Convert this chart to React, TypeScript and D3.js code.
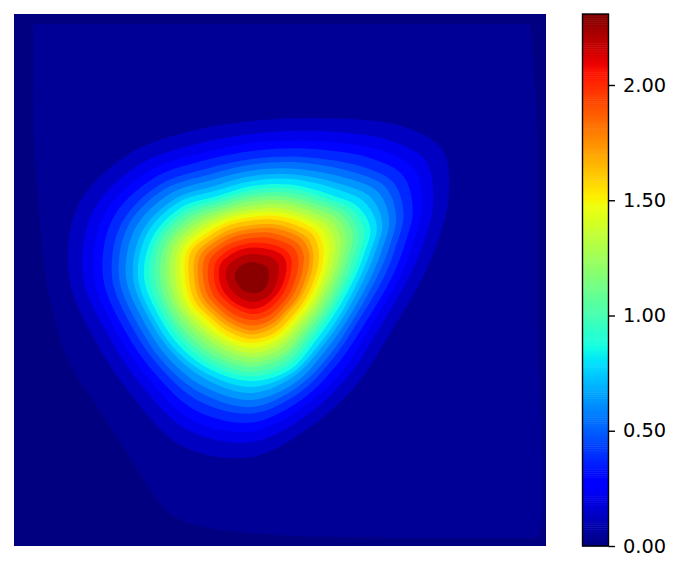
import React, { useEffect, useRef } from "react";
import * as d3 from "d3";

// contour radii, one list per ray (angles in rayAngles, east then clockwise)
// each list runs from level 2 out at the rim to level 28 around the peak, in field units
const rayE = [171,157,148,140,132,125,119,113,108,103,98.5,94,89.5,85,80.5,76,71.5,67,63,58,54,49,44,38,33,26,17];
const rayA1 = [149,137,129,122,115,110,105,100,96,91,87,83.5,80,76,72,68.5,65,61,57.5,53,50,45,41,35.5,31,25,17];
const rayA2 = [150,138,130,122,115,110,104,99,95,90,86,82,78,74.5,70.5,66.5,63,59,56,51,48,44,40,35,30,25,17];
const rayA3 = [160,148,139,132,125,119,114,108,104,100,95.5,91,86,82,77,72.5,68,63.5,60,55,51,47,42,36.5,31,25,17];
const rayS = [180,165,154.5,145.5,136.5,130,123,116,110,104,99.5,95,90,85.5,80.5,76,71,66,62,57.5,53.5,48.5,43,37,32,25,16];
const rayA5 = [183,166,155,145,135,127,120,112.5,107,101.5,97,92,87.5,82.5,77.5,73,68.5,64,59.5,55,51,46.5,41.5,35.5,31,24,16];
const rayA6 = [169,155,145.5,137,129,123,116.5,110,105.5,100,95,90.5,86,81,76,71.5,67,62,58,54,50,45.5,41,35,31,24,16];
const rayA7 = [169,155,146,138,130,123.5,117,111,106.5,101,96.5,92,88,83.5,79,75,70.5,66,62,57,53,48,43,37,32,25,16];
const rayW = [183,169,158,149,140,133,126,119,114,108,103,97,92,87,82,77,72,67,63,58,54,49,44,38,33,26,17];
const rayA9 = [188,172,160.5,151,141,134,126.5,119,113.5,107,102.5,98,93,88.5,84,79,74.5,70,66,60.5,56,51,45.5,39,34,26.5,17];
const rayA10 = [174,159,148.5,139.5,130.5,124,117,110,105,99,94.5,90,85.5,81,76.5,72,67.5,63,59,54.5,51,46,41.5,36,31,24.5,16];
const rayA11 = [158,144,134,126,117.5,111,105,98.5,93.5,88,84.5,81,77.5,74,70.5,67,63.5,60,56.5,52,48,44,39,34,29.5,23,15];
const rayN = [156,143,134,126,118,112.5,106.5,101,96,91,87,83,79.5,75.5,71.5,67.5,64,60,56.5,52,48,44,39,34,29.5,23,15];
const rayA13 = [172,158,147.5,139,130,124,117,111,106,100,96,91.5,87,83,79,74.5,70,66,62,57,53,48,42.5,36.5,31,24,15];
const rayA14 = [213,193.5,180,168,156,147,138.5,130,123,115,110,105,100,95,90,85,80,75,70,64.5,60,54,48,41.5,35.5,27.5,17];
const rayA145 = [229,209,195,182,170,161,152,143,135,127,121,115,109.5,103.5,97.5,91.5,85,79,74,68,63,57,51,43.5,37.5,29,18];
const rayA15 = [213,196,184,174,164,156,148.5,141,135,128,121.5,115,109,102.5,96,90,83.5,77,72,66,62,56,50,43,37,29,18];
const rayA155 = [190,175,164,155,146,139,132,125.5,120,114,109,103.5,98,93,88,82.5,77,72,67.5,62,58,52,47,40,35,27,17.5];
const rays = [rayE,rayA1,rayA2,rayA3,rayS,rayA5,rayA6,rayA7,rayW,rayA9,rayA10,rayA11,rayN,rayA13,rayA14,rayA145,rayA15,rayA155];
const rayAngles = [0,22.5,45,67.5,90,112.5,135,157.5,180,202.5,225,247.5,270,292.5,315,326.25,337.5,348.75];

// peak position in field units (field is 532 x 532)
const peakX = 238;
const peakY = 263;
const fieldSize = 532;

// faint first contour, hugging the border of the field
const level1X = [17,18,19,24,34,54,79,111,149,163,190,226,286,386,514,523,523,522,516,516,400,100,17,17];
const level1Y = [10,10,106,186,276,346,386,436,493,504,513,518,522,524,524,524,286,86,10,10,10,10,10,10];

const zMax = 2.308;
const barCount = 256;
const cbarTicks = [0, 0.5, 1, 1.5, 2];

// matplotlib jet
const jetR = d3.scaleLinear().domain([0, 0.35, 0.66, 0.89, 1]).range([0, 0, 1, 1, 0.5]);
const jetG = d3.scaleLinear().domain([0, 0.125, 0.375, 0.64, 0.91, 1]).range([0, 0, 1, 1, 0, 0]);
const jetB = d3.scaleLinear().domain([0, 0.11, 0.34, 0.65, 1]).range([0.5, 1, 1, 0, 0]);
const jet = (t: number) =>
  d3.rgb(jetR(t) * 255, jetG(t) * 255, jetB(t) * 255).formatHex();

const App = () => {
  const ref = useRef<SVGSVGElement>(null);

  useEffect(() => {
    const svg = d3.select(ref.current);
    svg.selectAll("*").remove();

    const plotLeft = 14;
    const plotTop = 14;
    const plotSize = 532;
    const barX = 582.5;
    const barW = 26;

    const x = d3.scaleLinear().domain([0, fieldSize]).range([plotLeft, plotLeft + plotSize]);
    const y = d3.scaleLinear().domain([0, fieldSize]).range([plotTop, plotTop + plotSize]);
    const rScale = d3.scaleLinear().domain([0, fieldSize]).range([0, plotSize]);
    const c = d3.scaleLinear().domain([0, zMax]).range([plotTop + plotSize, plotTop]);

    const bandColor = (k: number) => jet(Math.max(0, (k - 0.45) / 27.8));

    svg
      .append("rect")
      .attr("x", plotLeft)
      .attr("y", plotTop)
      .attr("width", plotSize)
      .attr("height", plotSize)
      .attr("fill", bandColor(0));

    const outer = d3
      .line<number>()
      .x((d) => x(d))
      .y((_, i) => y(level1Y[i]))
      .curve(d3.curveCatmullRom.alpha(0.5));

    svg.append("path").attr("d", outer(level1X)).attr("fill", bandColor(1));

    const radial = d3
      .lineRadial<number>()
      .angle((_, i) => ((90 + rayAngles[i]) * Math.PI) / 180)
      .radius((d) => rScale(d))
      .curve(d3.curveCatmullRomClosed.alpha(0.5));

    const levels = d3.range(rayE.length);
    svg
      .append("g")
      .attr("transform", "translate(" + x(peakX) + "," + y(peakY) + ")")
      .selectAll("path")
      .data(levels)
      .enter()
      .append("path")
      .attr("d", (l) => radial(rays.map((r) => r[l])))
      .attr("fill", (l) => bandColor(l + 2));

    // colorbar
    const barSteps = d3.range(barCount);
    svg
      .append("g")
      .selectAll("rect")
      .data(barSteps)
      .enter()
      .append("rect")
      .attr("x", barX)
      .attr("width", barW)
      .attr("y", (d) => c(((d + 1) / barCount) * zMax))
      .attr("height", plotSize / barCount + 0.5)
      .attr("fill", (d) => jet((d + 0.5) / barCount));

    svg
      .append("rect")
      .attr("x", barX)
      .attr("y", plotTop)
      .attr("width", barW)
      .attr("height", plotSize)
      .attr("fill", "none")
      .attr("stroke", "black")
      .attr("stroke-width", 1.4);

    const axis = svg
      .append("g")
      .attr("transform", "translate(" + (barX + barW) + ",0)")
      .call(
        d3
          .axisRight(c)
          .tickValues(cbarTicks)
          .tickFormat(d3.format(".2f"))
          .tickSize(6.5)
          .tickPadding(8)
      );
    axis.select(".domain").remove();
    axis.selectAll("line").attr("stroke", "black").attr("stroke-width", 1.4);
    axis
      .selectAll("text")
      .attr("fill", "black")
      .style("font-family", "'DejaVu Sans'")
      .style("font-size", "19.4px");
  }, []);

  return (
    <svg
      ref={ref}
      width={681}
      height={572}
      style={{ position: "absolute", left: 0, top: 0 }}
    />
  );
};

export default App;
